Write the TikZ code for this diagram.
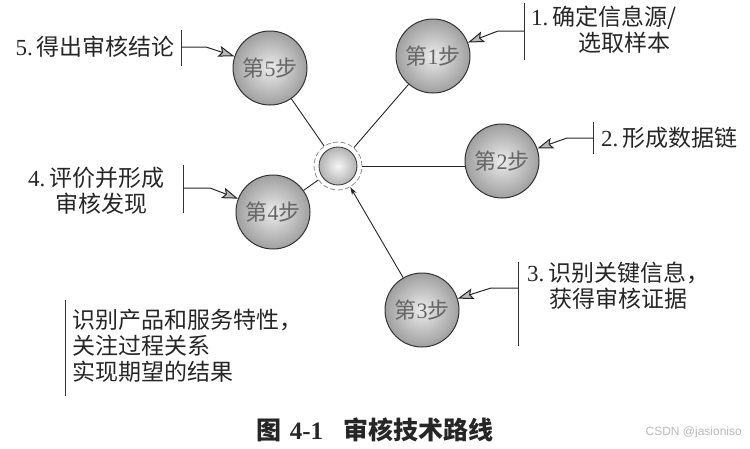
\documentclass[tikz,border=0pt]{standalone}
\usepackage{fontspec}
\setmainfont{Noto Sans CJK SC}
\newfontfamily\lat{Liberation Serif}
\newfontfamily\wm{Liberation Sans}
\usetikzlibrary{arrows.meta}
\tikzset{
  stepball/.style={circle, minimum size=74pt, inner sep=0pt, shading=radial, inner color=gray!15, outer color=gray!75,
     draw=black!80, line width=1pt, text=black!60, font=\fontsize{22}{24}\selectfont},
  hubball/.style={circle, minimum size=38pt, inner sep=0pt, shading=radial, inner color=gray!8, outer color=gray!60,
     draw=black!75, line width=0.9pt},
  hubring/.style={circle, minimum size=48pt, inner sep=0pt, draw=black!45, dash pattern=on 5pt off 2.5pt, line width=0.8pt},
  lbl/.style={inner sep=0pt, font=\fontsize{23}{26}\selectfont, text=black!85},
  bracket/.style={line width=1pt, black!80},
  callout/.style={line width=1pt, black!85, -{Stealth[length=16pt,width=11pt,inset=3pt,fill=gray!55]}},
  spoke/.style={line width=0.9pt, black!85},
}
\begin{document}
\begin{tikzpicture}[x=1pt,y=-1pt]
\path[use as bounding box] (0,0) rectangle (750,448);

% hub
\node[hubball] (hub) at (338,166) {};
\node[hubring] (c) at (338,166) {};

% steps
\node[stepball] (s5) at (270,68) {第{\lat 5}步};
\node[stepball] (s1) at (433,56) {第{\lat 1}步};
\node[stepball] (s2) at (502,161) {第{\lat 2}步};
\node[stepball] (s4) at (273,212) {第{\lat 4}步};
\node[stepball] (s3) at (422,310) {第{\lat 3}步};

% spokes
\draw[spoke] (s5) -- (c);
\draw[spoke] (s1) -- (c);
\draw[spoke] (c.east) -- (s2.west |- c.east);
\draw[spoke] (s4) -- (c);
\draw[spoke, -{Stealth[length=8pt,width=5pt]}] (s3) -- (c);

% label 5
\node[lbl, anchor=east] (t5) at (175,47) {{\lat 5.}\hspace{4pt}得出审核结论};
\coordinate (b5t) at (181,30); \coordinate (b5b) at (181,66); \coordinate (b5m) at (181,47);
\draw[bracket] (b5t) -- (b5b);
\draw[callout] (b5m) -- ++(25,0) -- (s5);

% label 1
\node[lbl, anchor=north west, align=left] (t1) at (531,6) {{\lat 1.}\hspace{4pt}确定信息源/\\\hspace{47pt}选取样本};
\coordinate (b1t) at (524,3); \coordinate (b1b) at (524,60); \coordinate (b1m) at (524,31);
\draw[bracket] (b1t) -- (b1b);
\draw[callout] (b1m) -- ++(-26,0) -- (s1);

% label 2
\node[lbl, anchor=west] (t2) at (601,138) {{\lat 2.}\hspace{4pt}形成数据链};
\coordinate (b2t) at (593,122); \coordinate (b2b) at (593,154); \coordinate (b2m) at (593,138);
\draw[bracket] (b2t) -- (b2b);
\draw[callout] (b2m) -- ++(-26,0) -- (s2);

% label 4
\node[lbl, anchor=north west, align=left] (t4) at (28,167) {{\lat 4.}\hspace{4pt}评价并形成\\\hspace{27pt}审核发现};
\coordinate (b4t) at (183,165); \coordinate (b4b) at (183,213); \coordinate (b4m) at (183,188);
\draw[bracket] (b4t) -- (b4b);
\draw[callout] (b4m) -- ++(27,0) -- (s4);

% label 3
\node[lbl, anchor=north west, align=left] (t3) at (527,262) {{\lat 3.}\hspace{4pt}识别关键信息，\\\hspace{22pt}获得审核证据};
\coordinate (b3t) at (518,262); \coordinate (b3b) at (518,346); \coordinate (b3m) at (518,288);
\draw[bracket] (b3t) -- (b3b);
\draw[callout] (b3m) -- ++(-27,0) -- (s3);

% bottom-left note
\node[lbl, anchor=north west, align=left] (note) at (72,309) {识别产品和服务特性，\\关注过程关系\\实现期望的结果};
\coordinate (bnt) at (65,300); \coordinate (bnb) at (65,396);
\draw[bracket] (bnt) -- (bnb);

% caption
\node[inner sep=0pt, font=\fontsize{25}{28}\selectfont\bfseries, text=black!85] (cap) at (375,430)
  {图\hspace{8pt}{\lat\bfseries 4-1}\hspace{20pt}审核技术路线};

% watermark
\node[inner sep=0pt, font=\wm\fontsize{12}{14}\selectfont, text=gray!55, anchor=east] (wmk) at (742,432) {CSDN @jasioniso};
\end{tikzpicture}
\end{document}
